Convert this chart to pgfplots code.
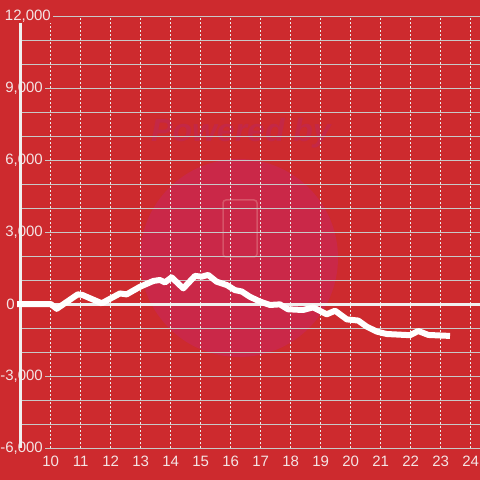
\documentclass[border=0pt]{standalone}
\usepackage{pgfplots}
\pgfplotsset{compat=1.18}
\usepackage{fontspec}
\setmainfont{Liberation Sans}
\definecolor{bgred}{RGB}{205,42,46}
\definecolor{wmc}{RGB}{202,40,72}
\definecolor{wmt}{RGB}{196,40,70}
\definecolor{wml}{RGB}{214,84,104}
\definecolor{gridgray}{RGB}{200,200,200}
\definecolor{vgrid}{RGB}{235,235,235}
\definecolor{axiswhite}{RGB}{240,240,240}
\definecolor{labelcol}{RGB}{244,228,228}
\begin{document}
\begin{tikzpicture}
\fill[bgred] (0,0) rectangle (480pt,480pt);
\path[use as bounding box] (0,0) rectangle (480pt,480pt);
\fill[wmc] (239pt,222pt) circle (99pt);
\node[text=wmt, font=\fontsize{32}{36}\selectfont\bfseries\itshape] at (241pt,347pt) {Powered by};
\draw[wml, line width=1.5pt, rounded corners=3pt] (223pt,223pt) rectangle (257pt,280pt);
\begin{axis}[
  at={(20.7pt,32pt)}, anchor=south west, scale only axis,
  width=459.3pt, height=432pt,
  xmin=9, xmax=24.31, ymin=-6000, ymax=12000,
  clip=false,
  scaled y ticks=false, scaled x ticks=false,
  axis line style={draw=none},
  major tick length=0pt, minor tick length=0pt,
  xtick={10,11,12,13,14,15,16,17,18,19,20,21,22,23,24},
  xticklabels={10,11,12,13,14,15,16,17,18,19,20,21,22,23,24},
  xmajorgrids,
  x grid style={vgrid, dash pattern=on 2pt off 2pt, line width=0.8pt},
  ytick={-6000,-3000,3000,6000,9000},
  yticklabels={{-6,000},{-3,000},{3,000},{6,000},{9,000}},
  minor ytick={-5000,-4000,-2000,-1000,0,1000,2000,4000,5000,7000,8000,10000,11000,12000},
  ymajorgrids, yminorgrids,
  major y grid style={gridgray, line width=0.8pt},
  minor y grid style={gridgray, line width=0.8pt},
  ticklabel style={font=\fontsize{15}{18}\selectfont, text=labelcol},
  xticklabel style={anchor=base, yshift=-18pt},
  yticklabel style={anchor=east, xshift=24.3pt, fill=bgred, inner xsep=2pt, inner ysep=1pt},
]
\draw[axiswhite, line width=3pt] (axis cs:9,-6000) -- (axis cs:9,12000);
\draw[axiswhite, line width=3pt] (axis cs:8.88,0) -- (axis cs:24.31,0);
\addplot[white, line width=6pt, line join=round] coordinates {
(8.88,0) (10.0,0) (10.2,-200) (10.9,400) (11.05,380) (11.7,30) (12.31,440) (12.53,400)
(12.98,720) (13.42,960) (13.64,1000) (13.81,900) (14.03,1110) (14.42,650) (14.81,1170)
(15.03,1140) (15.25,1210) (15.53,930) (15.87,790) (16.14,580) (16.37,520) (16.64,300)
(16.98,100) (17.31,-40) (17.64,-15) (17.91,-220) (18.41,-250) (18.75,-140) (19.2,-430)
(19.48,-280) (19.87,-640) (20.25,-690) (20.53,-940) (20.87,-1150) (21.2,-1250)
(21.98,-1300) (22.25,-1125) (22.59,-1290) (23.31,-1330)
};
\node[anchor=east, fill=bgred, text=labelcol, inner xsep=2pt, inner ysep=1pt, font=\fontsize{15}{18}\selectfont, xshift=-3.7pt] at (axis cs:9,0) {0};
\node[anchor=east, fill=bgred, text=labelcol, inner xsep=2pt, inner ysep=1pt, font=\fontsize{15}{18}\selectfont, xshift=32.3pt] at (axis cs:9,12000) {12,000};
\end{axis}
\end{tikzpicture}
\end{document}
